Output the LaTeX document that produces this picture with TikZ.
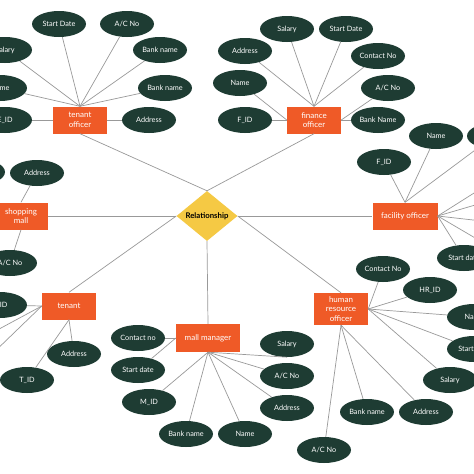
\documentclass[tikz,border=0pt]{standalone}
\usepackage{fontspec}
\setmainfont{Lato}
\usepackage{xcolor}
\usetikzlibrary{shapes.geometric}
\definecolor{ergreen}{HTML}{1E3C33}
\definecolor{erorange}{HTML}{EF5A27}
\definecolor{eryellow}{HTML}{F5C944}
\definecolor{erline}{HTML}{999999}

\begin{document}
\begin{tikzpicture}[
    x=1pt, y=-1pt,
    attr/.style={ellipse, fill=ergreen, text=white, minimum width=54pt,
                 minimum height=26pt, inner sep=0pt,
                 font=\fontsize{7.3}{8}\selectfont},
    entity/.style={fill=erorange, text=white, minimum width=54pt,
                   minimum height=27pt, inner sep=1pt, align=center,
                   font=\fontsize{8}{9.5}\selectfont},
    rel/.style={diamond, fill=eryellow, minimum width=61pt,
                minimum height=37pt, inner sep=0pt,
                font=\bfseries\fontsize{7.8}{8}\selectfont},
    link/.style={draw=erline, line width=0.7pt}
  ]
    \fill[white] (0,0) rectangle (474,474);
    \clip (0,0) rectangle (474,474);

    % Relationship
    \node[rel] (rel) at (207,216) {Relationship};

    % tenant officer
    \node[entity] (to) at (80,120) {tenant\\officer};
    \node[attr] (to-sd) at (59,24) {Start Date};
    \node[attr] (to-ac) at (127,24) {A/C No};
    \node[attr] (to-sal) at (5,50) {Salary};
    \node[attr] (to-nm) at (0,88) {Name};
    \node[attr] (to-id) at (5,120) {E\_ID};
    \node[attr] (to-bn1) at (160,50) {Bank name};
    \node[attr] (to-bn2) at (165,88) {Bank name};
    \node[attr] (to-adr) at (149,120) {Address};

    % finance officer
    \node[entity] (fo) at (314,120) {finance\\officer};
    \node[attr] (fo-sal) at (287,29) {Salary};
    \node[attr] (fo-sd) at (346,29) {Start Date};
    \node[attr] (fo-adr) at (245,51) {Address};
    \node[attr] (fo-nm) at (240,83) {Name};
    \node[attr] (fo-id) at (245,120) {F\_ID};
    \node[attr] (fo-cn) at (378,56) {Contact No};
    \node[attr] (fo-ac) at (388,88) {A/C No};
    \node[attr] (fo-bn) at (378,120) {Bank Name};

    % shopping mall
    \node[entity] (sm) at (21,216) {shopping\\mall};
    \node[attr] (sm-x) at (-22,172) {};
    \node[attr] (sm-adr) at (37,173) {Address};
    \node[attr] (sm-ac) at (10,263) {A/C No};

    % tenant
    \node[entity] (tn) at (69,306) {tenant};
    \node[attr] (tn-sid) at (0,305) {S\_ID};
    \coordinate (tn-x1) at (-12,335);
    \coordinate (tn-x2) at (-12,358);
    \node[attr] (tn-adr) at (74,354) {Address};
    \node[attr] (tn-id) at (27,380) {T\_ID};

    % mall manager
    \node[entity, minimum width=64pt, minimum height=28pt] (mm) at (208,338)
      {mall manager};
    \node[attr] (mm-cn) at (138,338) {Contact no};
    \node[attr] (mm-sd) at (138,370) {Start date};
    \node[attr] (mm-id) at (149,402) {M\_ID};
    \node[attr] (mm-bn) at (186,434) {Bank name};
    \node[attr] (mm-nm) at (245,434) {Name};
    \node[attr] (mm-sal) at (287,344) {Salary};
    \node[attr] (mm-ac) at (287,376) {A/C No};
    \node[attr] (mm-adr) at (287,408) {Address};

    % facility officer
    \node[entity, minimum width=65pt] (fc) at (405,216) {facility officer};
    \node[attr] (fc-id) at (384,162) {F\_ID};
    \node[attr] (fc-nm) at (436,136) {Name};
    \node[attr] (fc-x) at (494,136) {};
    \node[attr] (fc-sd) at (464,258) {Start date};
    \coordinate (fc-x1) at (482,188);
    \coordinate (fc-x2) at (482,203);
    \coordinate (fc-x3) at (482,221);
    \coordinate (fc-x4) at (482,242);

    % human resource officer
    \node[entity, minimum height=32pt] (hr) at (341,309)
      {human\\resource\\officer};
    \node[attr] (hr-cn) at (383,269) {Contact No};
    \node[attr] (hr-id) at (430,290) {HR\_ID};
    \node[attr] (hr-nm) at (474,317) {Name};
    \node[attr] (hr-sd) at (474,349) {Start date};
    \node[attr] (hr-sal) at (450,380) {Salary};
    \node[attr] (hr-adr) at (426,412) {Address};
    \node[attr] (hr-bn) at (367,412) {Bank name};
    \node[attr] (hr-ac) at (324,450) {A/C No};

    % Links to the relationship
    \draw[link] (to.south) -- (rel.north);
    \draw[link] (fo.south) -- (rel.north);
    \draw[link] (sm.east) -- (rel.west);
    \draw[link] (tn.north) -- (rel.west);
    \draw[link] (rel.south) -- (mm.north);
    \draw[link] (rel.east) -- (fc.west);
    \draw[link] (rel.east) -- (hr.north);

    % Attribute links
    \foreach \a in {sd, ac, sal, nm, bn1, bn2}
      \draw[link] (to-\a) -- (to.north);
    \draw[link] (to-id) -- (to.west);
    \draw[link] (to-adr) -- (to.east);

    \foreach \a in {sal, sd, adr, cn}
      \draw[link] (fo-\a) -- (fo.north);
    \foreach \a in {nm, id}
      \draw[link] (fo-\a) -- (fo.west);
    \foreach \a in {ac, bn}
      \draw[link] (fo-\a) -- (fo.east);

    \draw[link] (sm-adr) -- (sm.north);
    \draw[link] (sm-ac) -- (sm.south);

    \draw[link] (tn-sid) -- (tn.west);
    \draw[link] (tn-x1) -- (tn.west);
    \draw[link] (tn-x2) -- (tn.west);
    \draw[link] (tn-adr) -- (tn.south);
    \draw[link] (tn-id) -- (tn.south);

    \draw[link] (mm-cn) -- (mm.west);
    \draw[link] (mm-sd) -- (mm.west);
    \foreach \a in {id, bn, nm, ac, adr}
      \draw[link] (mm-\a) -- (mm.south);
    \draw[link] (mm.south) -- (mm-sal.south);

    \foreach \a in {id, nm, x}
      \draw[link] (fc-\a) -- (fc.north);
    \foreach \a in {sd, x1, x2, x3, x4}
      \draw[link] (fc-\a) -- (fc.east);

    \foreach \a in {cn, id, nm, sd, sal}
      \draw[link] (hr-\a) -- (hr.east);
    \foreach \a in {adr, bn, ac}
      \draw[link] (hr-\a) -- (hr.south);
  \end{tikzpicture}
\end{document}
